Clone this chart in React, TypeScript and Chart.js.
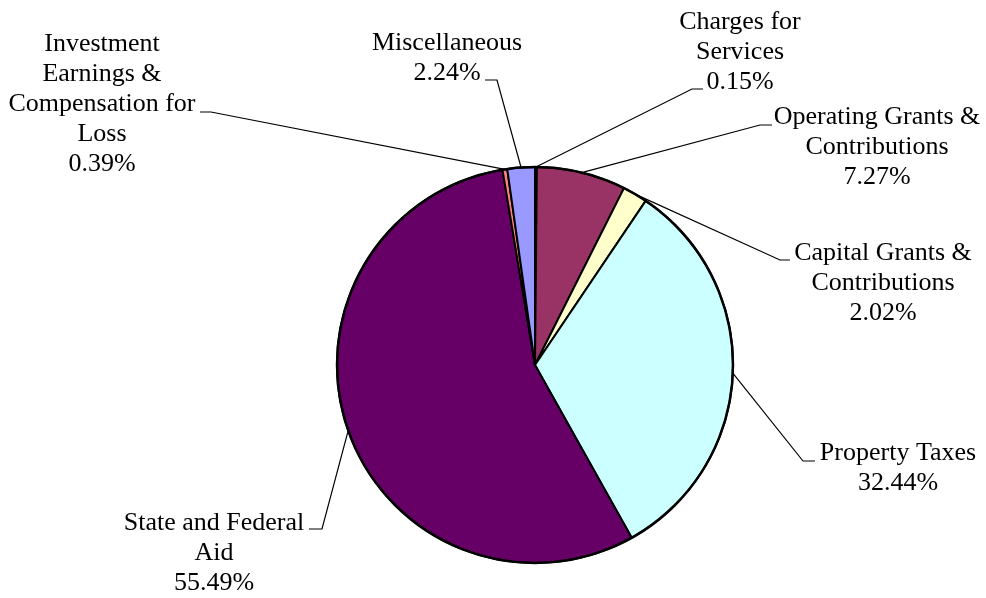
import React, { useEffect, useRef } from "react";
import { Chart, registerables } from "chart.js";

Chart.register(...registerables);

const categories = [
  "Charges for Services",
  "Operating Grants & Contributions",
  "Capital Grants & Contributions",
  "Property Taxes",
  "State and Federal Aid",
  "Investment Earnings & Compensation for Loss",
  "Miscellaneous",
];

const shares = [0.15, 7.27, 2.02, 32.44, 55.49, 0.39, 2.24];

const labelLines = [
  ["Charges for", "Services"],
  ["Operating Grants &", "Contributions"],
  ["Capital Grants &", "Contributions"],
  ["Property Taxes"],
  ["State and Federal", "Aid"],
  ["Investment", "Earnings &", "Compensation for", "Loss"],
  ["Miscellaneous"],
];

const sliceColors = ["#000000", "#993366", "#FFFFCC", "#CCFFFF", "#660066", "#FF8080", "#9999FF"];

// label layout: elbow point, tick end, text centre x, first line centre y
const labelLayout = [
  { elbow: [692, 89], tick: [703, 89], tx: 740, ty: 22 },
  { elbow: [760, 125], tick: [772, 125], tx: 877, ty: 117 },
  { elbow: [780, 260], tick: [790, 260], tx: 883, ty: 253 },
  { elbow: [803, 461], tick: [815, 461], tx: 898, ty: 453 },
  { elbow: [322, 529], tick: [309, 529], tx: 214, ty: 523 },
  { elbow: [211, 112], tick: [200, 112], tx: 102, ty: 44 },
  { elbow: [497, 80], tick: [485, 80], tx: 447, ty: 43 },
];

const FONT = '26px "Liberation Serif", "Times New Roman", Times, serif';
const LINE_H = 30;

const labelPlugin = {
  id: "leaderLabels",
  afterDatasetsDraw(chart: any) {
    const ctx = chart.ctx;
    const meta = chart.getDatasetMeta(0);
    ctx.save();
    const a0 = meta.data[0];
    ctx.beginPath();
    ctx.arc(a0.x, a0.y, a0.outerRadius, 0, Math.PI * 2);
    ctx.lineWidth = 2.5;
    ctx.strokeStyle = "#000";
    ctx.stroke();

    meta.data.forEach((arc: any, i: number) => {
      const lay = labelLayout[i];
      const mid = (arc.startAngle + arc.endAngle) / 2;
      const ax = arc.x + arc.outerRadius * Math.cos(mid);
      const ay = arc.y + arc.outerRadius * Math.sin(mid);
      ctx.beginPath();
      ctx.moveTo(ax, ay);
      ctx.lineTo(lay.elbow[0], lay.elbow[1]);
      ctx.lineTo(lay.tick[0], lay.tick[1]);
      ctx.lineWidth = 1.2;
      ctx.strokeStyle = "#000";
      ctx.stroke();

      const lines = [...labelLines[i], shares[i].toFixed(2) + "%"];
      ctx.font = FONT;
      ctx.fillStyle = "#000";
      ctx.textAlign = "center";
      ctx.textBaseline = "middle";
      lines.forEach((t, k) => {
        ctx.fillText(t, lay.tx, lay.ty + k * LINE_H);
      });
    });
    ctx.restore();
  },
};

export default function App() {
  const ref = useRef<HTMLCanvasElement>(null);
  useEffect(() => {
    const chart = new Chart(ref.current as HTMLCanvasElement, {
      type: "pie",
      data: {
        labels: categories,
        datasets: [
          {
            data: shares,
            backgroundColor: sliceColors,
            borderColor: "#000000",
            borderWidth: 2,
            radius: 198,
          } as any,
        ],
      },
      options: {
        animation: false,
        responsive: false,
        maintainAspectRatio: false,
        layout: { padding: { left: 335, right: 251, top: 165, bottom: 33 } },
        plugins: {
          legend: { display: false },
          tooltip: { enabled: false },
        },
      },
      plugins: [labelPlugin],
    });
    return () => chart.destroy();
  }, []);
  return (
    <div style={{ position: "fixed", left: 0, top: 0, width: 986, height: 598, background: "#fff" }}>
      <canvas ref={ref} width={986} height={598} />
    </div>
  );
}
